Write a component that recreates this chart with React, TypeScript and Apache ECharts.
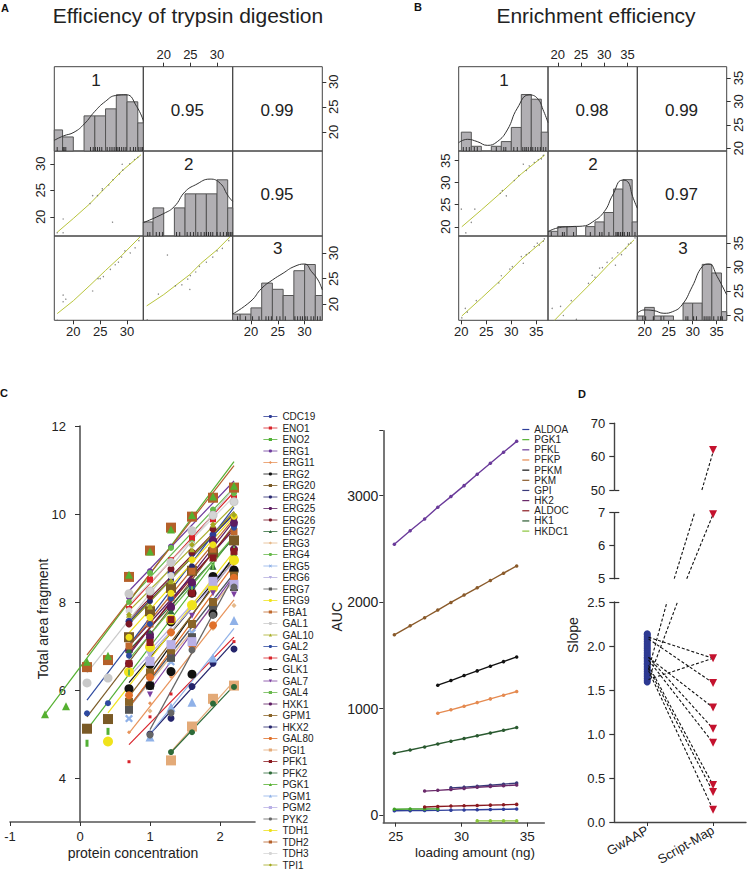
import React, { useEffect, useRef } from "react";
import * as echarts from "echarts";

const FONT = "'Liberation Sans', Arial, sans-serif";
const INK = "#222";

// ---------- Panels A and B: pair plots ----------
const rowEdges = [66.7, 151, 236, 320.3];
const colEdgesA = [54.3, 143.3, 232.7, 322.3];
const colEdgesB = [458.7, 548, 637.3, 726.7];

const xRangesA = [[16.46, 33.03], [16.17, 32.94], [16.6, 33.3]];
const yRangesA = [[16.2, 33], [16.4, 32.4], [16.9, 33.3]];
const xRangesB = [[19.48, 37.34], [17.9, 37.1], [18.46, 37.1]];
const yRangesB = [[19.43, 37.4], [17.9, 37.2], [18.9, 36.5]];
const ticksA = [20, 25, 30];
const ticksB = [20, 25, 30, 35];

const histA1 = [[16, 18, 3], [18, 20, 2], [22, 24, 5], [24, 26, 5], [26, 28, 6], [28, 30, 8], [30, 32, 7], [32, 34, 4]];
const histA2 = [[16, 18, 2], [18, 20, 4], [22, 24, 4], [24, 26, 6], [26, 28, 6], [28, 30, 6], [30, 32, 8], [32, 34, 4]];
const histA3 = [[16, 18, 1], [18, 20, 1], [20, 22, 2], [22, 24, 6], [24, 26, 5], [26, 28, 4], [28, 30, 8], [30, 32, 9], [32, 34, 4]];
const histB1 = [[20, 22, 4], [22, 24, 1], [26, 28, 1], [28, 30, 2], [30, 32, 5], [32, 34, 12], [34, 36, 11], [36, 38, 4]];
const histB2 = [[18, 20, 1], [20, 22, 2], [22, 24, 2], [26, 28, 2], [28, 30, 3], [30, 32, 5], [32, 34, 10], [34, 36, 12], [36, 38, 3]];
const histB3 = [[18, 20, 1], [20, 22, 3], [22, 24, 1], [24, 26, 1], [28, 30, 4], [30, 32, 4], [32, 34, 13], [34, 36, 11], [36, 38, 2]];
const histMaxA = [12, 12.1, 13.6];
const histMaxB = [17.9, 18.1, 19.6];

const densA1 = [[16.46, 1.52], [18.14, 2.14], [20.13, 2.67], [22.05, 3.86], [23.98, 5.62], [25.96, 7.05], [27.89, 7.9], [29.88, 8], [31.8, 6.33], [33.03, 4.33]];
const densA2 = [[16.17, 1.9], [20, 3.2], [22, 4.2], [24, 6.3], [26, 7.3], [28.7, 8.1], [30.6, 7.5], [32, 5.8], [32.94, 4.9]];
const densA3 = [[16.6, 1.02], [20, 3.1], [22, 5.16], [24, 6.5], [26, 7.6], [28, 8.65], [30, 9.08], [31.3, 7.85], [32.5, 6.5], [33.3, 4.9]];
const densB1 = [[19.48, 1.77], [21.2, 2.48], [23.2, 1.99], [25.2, 1.2], [27.2, 1.99], [29.2, 4.47], [31.2, 9.08], [33.55, 11.9], [35.2, 11.2], [36.5, 8.37], [37.34, 6.03]];
const densB2 = [[17.9, 0.92], [19.9, 1.7], [22.8, 2], [25.3, 2.1], [27.5, 3], [30, 5.2], [31.8, 8.7], [33.9, 11.9], [35, 11.6], [36.1, 8.4], [37.1, 5.9]];
const densB3 = [[18.46, 1.63], [19.85, 2.4], [21.9, 2.25], [24, 1.63], [25.8, 2], [27.8, 3.6], [29.9, 7.8], [32, 12.5], [33.4, 13.1], [35.1, 10.2], [37.1, 5.9]];

const rugA1 = [17, 18.1, 18.3, 18.6, 23.2, 23.7, 24.1, 24.5, 24.9, 25.3, 26.3, 26.8, 27.2, 27.6, 28, 28.3, 28.6, 29, 29.4, 29.8, 30.6, 31.2, 31.6, 32.2, 32.6, 32.9];
const rugA2 = [17, 17.4, 18.6, 19.2, 19.8, 22.4, 23, 24.4, 25, 25.6, 26.4, 27, 27.6, 28, 28.4, 28.8, 29.2, 30, 30.6, 31.2, 31.8, 32.2, 32.5, 32.8];
const rugA3 = [17.5, 19, 20.3, 21.5, 22.8, 23.3, 23.8, 24.8, 25.4, 26.4, 28.2, 28.7, 29.2, 29.6, 30.1, 30.5, 31.2, 31.7, 32.4, 32.9];
const rugB1 = [20.4, 21, 21.6, 22.6, 23.2, 27, 28.5, 28.9, 30.5, 31.2, 32.3, 32.7, 33, 33.4, 33.9, 34.3, 34.8, 35.3, 35.8, 36.4, 36.9];
const rugB2 = [18.6, 21, 21.4, 23.4, 27, 29, 29.5, 31, 32.5, 32.8, 33.1, 33.5, 33.9, 34.3, 35, 35.4, 36.6];
const rugB3 = [19.6, 20.2, 21.8, 23.4, 28.6, 29, 30.2, 30.8, 32.4, 32.8, 33.2, 33.6, 34.4, 35.3, 35.8, 36.2];

const corrA = ["0.95", "0.99", "0.95"];
const corrB = ["0.98", "0.99", "0.97"];

const fitColor = "#b8c43c";
const fitA10 = [[17, 17.1], [20, 19.7], [23, 22.4], [26, 25.5], [29, 28.6], [32.6, 31.7]];
const fitA20 = [[17, 18.2], [20, 20.7], [23.1, 23.7], [26, 26.6], [29, 29.5], [32.4, 33.1]];
const fitA21 = [[16.8, 19.7], [20, 21.9], [24.9, 25.8], [27, 28], [30, 30.6], [32.4, 33.1]];
const fitB10 = [[20.1, 20], [24, 23.8], [28, 27.8], [32, 32], [36.7, 36.3]];
const fitB20 = [[20.1, 19.8], [24, 23.5], [28, 27.4], [32, 31.6], [36.6, 35.7]];
const fitB21 = [[19.3, 18.9], [23, 22.6], [27, 26.5], [31, 30.6], [36.4, 35.7]];

const dotsA10 = [[17, 17], [18.1, 19.6], [18.1, 17], [27.3, 19], [23.1, 22.5], [23.6, 24], [24.5, 24], [25.4, 25], [25.4, 25.3], [26.6, 26], [27.4, 27], [28.6, 28.1], [29.2, 28.8], [29.1, 29.9], [30.5, 30], [31.4, 30.8], [32, 31.2]];
const dotsA20 = [[17, 16.9], [18.1, 20.5], [18.1, 21.8], [18.6, 21], [23.6, 22.6], [24.6, 25], [25, 25], [25.6, 25.4], [26.9, 26.8], [27.8, 27.7], [28.4, 28.2], [29, 29.2], [29.6, 30.4], [30.6, 30], [31.5, 31], [32.2, 32.4]];
const dotsA21 = [[16.9, 17], [19, 22], [20.7, 29.6], [22.2, 23.6], [23.4, 23.8], [24.5, 24.9], [24.9, 22.9], [25, 25.6], [26, 26.3], [26.7, 27.4], [28, 28.2], [29.2, 29.2], [30, 30.4], [31, 30.9], [32.2, 32.4]];
const dotsB10 = [[20, 24], [20.9, 18.6], [22, 21], [22.7, 24], [27.8, 27.6], [28.2, 28.2], [29, 27], [30.6, 30.5], [31.5, 31.6], [32.4, 34.2], [33, 32.8], [33.6, 33.8], [34.6, 34.6], [35.4, 35.2], [36, 35.4], [36.4, 36.2]];
const dotsB20 = [[20.1, 19.4], [20.8, 21.4], [21.2, 20.6], [23, 23], [27.5, 26.7], [28, 28.2], [29.7, 29.6], [30.2, 30.1], [32, 32.2], [32.4, 30.8], [33, 32.6], [33.6, 33], [34.6, 34.3], [35.2, 35], [35.6, 34.6], [36.4, 35.4], [36.6, 35.9]];
const dotsB21 = [[18.8, 21.4], [20.6, 21.8], [21.2, 19.9], [22.9, 23], [24, 19.1], [26.6, 26.6], [27.4, 28.3], [28, 27.9], [29, 29.8], [29.6, 29.9], [30.6, 31], [31.7, 31.9], [32.4, 30.4], [32.9, 33], [33.7, 32.6], [34.6, 33.9], [35.2, 34.8], [35.7, 35], [36.6, 36.1]];

// ---------- Panel C, left: protein concentration ----------
const concentrations = [-0.5, -0.2, 0.1, 0.4, 0.7, 1.0, 1.3, 1.6, 1.9, 2.2];
const proteinNames = ["CDC19", "ENO1", "ENO2", "ERG1", "ERG11", "ERG2", "ERG20", "ERG24", "ERG25", "ERG26", "ERG27", "ERG3", "ERG4", "ERG5", "ERG6", "ERG7", "ERG9", "FBA1", "GAL1", "GAL10", "GAL2", "GAL3", "GLK1", "GAL7", "GAL4", "HXK1", "GPM1", "HKX2", "GAL80", "PGI1", "PFK1", "PFK2", "PGK1", "PGM1", "PGM2", "PYK2", "TDH1", "TDH2", "TDH3", "TPI1"];
const proteinColors = ["#2e3c96", "#d8232a", "#52b035", "#6d3a9c", "#e8935a", "#111111", "#7a5a26", "#26266e", "#5c1a60", "#7a1826", "#2f6a3a", "#e5b98a", "#66b84a", "#8fb1e8", "#b5aee0", "#555555", "#f0e31c", "#c0692d", "#c9c9c9", "#a9ae2a", "#2e4aa0", "#d8232a", "#111111", "#7b3fa0", "#69b84d", "#5c1a60", "#8a6428", "#24246b", "#e0702a", "#e3aa78", "#8a1a20", "#2d6a38", "#55b030", "#8fb1e8", "#b9b0e6", "#666666", "#eee01a", "#b5602a", "#d5d5d5", "#a3a820"];
const CROSS = "path://M0 2L2 0L5 3L8 0L10 2L7 5L10 8L8 10L5 7L2 10L0 8L3 5Z";
const DOWN = "path://M0 0H10L5 10Z";
const proteinSymbols = ["circle", "rect", "rect", "circle", "diamond", "circle", "rect", "circle", "circle", "circle", "triangle", "diamond", "circle", CROSS, DOWN, "rect", "circle", "rect", "circle", "triangle", "circle", "rect", "circle", DOWN, "rect", "circle", "rect", "circle", "circle", "rect", "rect", "circle", "triangle", "triangle", "rect", "circle", "circle", "rect", "circle", "diamond"];
const proteinSizes: any[] = [7, 6, [3, 7], 6, 4, 9, 10, 6, 8, 7, 7, 5, 6, 8, 8, 8, 10, 7, 9, 6, 6, 3, 9, 6, [2, 6], 8, 8, 7, 8, 10, 7, 6, 8, 9, 9, 7, 7, 10, 7, 6];
// start x, y at start, y at x = 2.2
const proteinFits = [[0.7, 7.5, 10.05], [0.7, 7.9, 10.5], [0.1, 5.1, 9.5], [0.7, 8.25, 10.75], [0.7, 5.02, 8.05], [0.7, 6.17, 9], [0.1, 5.39, 9.75], [0.7, 7.55, 10], [0.7, 7, 9.65], [0.7, 7.6, 10.05], [0.7, 6.9, 9.45], [0.7, 5.6, 8.5], [0.7, 8.05, 10.6], [0.7, 5.6, 8.65], [1, 6.9, 9], [0.7, 5.62, 8.65], [0.4, 5.48, 9.15], [0.7, 7, 9.9], [0.1, 6.39, 10.6], [0.7, 7.8, 10.2], [0.1, 5.77, 10.15], [0.7, 4.76, 7.2], [1, 6.35, 9.05], [1, 6, 8.6], [0.7, 6.7, 9.5], [0.7, 6.8, 9.85], [0.7, 5.85, 8.95], [1, 5, 7.1], [0.7, 5.6, 8.85], [1.3, 4.6, 6.2], [0.7, 6.85, 9.7], [1.3, 4.58, 6.1], [-0.5, 5.45, 11.19], [1, 5, 7.4], [0.7, 6.3, 8.9], [1, 5.1, 8.6], [0.7, 7.3, 9.95], [0.1, 6.8, 11.1], [0.7, 7.95, 10.4], [0.7, 7.5, 10.05]];
const N = null;
const proteinPoints = [
  [N, N, N, N, 7.56, 8.2, 8.66, 9.1, 9.53, 9.75],
  [N, N, N, N, 7.84, 8.51, 8.95, 9.45, 9.88, 10.36],
  [N, N, 4.79, 5.06, 6.92, 7.56, 7.8, 8.37, 8.81, 9.3],
  [N, N, N, N, 8.11, 8.7, 9.26, 9.62, 10.02, 10.52],
  [N, N, N, N, 5.04, 5.7, 6.3, 6.9, 7.47, 7.92],
  [N, N, N, N, 6.03, 6.58, 7.55, 8.2, 8.58, 8.73],
  [N, N, 5.12, 5.34, 7.2, 7.79, 8.32, 8.71, 9.13, 9.4],
  [N, N, N, N, 7.53, 8.02, 8.5, 8.81, 9.4, 9.78],
  [N, N, N, N, 6.9, 7.26, 7.87, 8.4, 9.4, 9.2],
  [N, N, N, N, 7.5, 8.13, 8.75, 9.13, 9.66, 9.92],
  [N, N, N, N, 6.92, 7.3, 7.8, 8.37, 8.81, 9.1],
  [N, N, N, N, N, 5.52, 6.42, 6.91, 7.4, 7.92],
  [N, N, N, N, 8.0, 8.66, 9.23, 9.34, 10.1, 10.47],
  [N, N, N, N, 5.35, 6.2, 6.64, 7.3, 8.03, 8.5],
  [N, N, N, N, N, 6.8, 7.03, 7.9, 8.47, 8.4],
  [N, N, N, N, 5.55, 6.1, 6.73, 7.2, 7.9, 8.34],
  [N, N, N, 4.83, 6.41, 6.98, 7.6, 7.93, 8.32, 8.95],
  [N, N, N, N, 7.0, 7.5, 8.1, 8.7, 9.2, 9.6],
  [N, N, 6.16, 6.27, 8.19, 8.25, 8.9, 9.62, 9.97, 10.28],
  [N, N, N, N, 7.71, 7.9, 8.47, 9.2, 9.76, 10.0],
  [N, N, 5.47, 5.7, 6.78, 7.5, 8.08, 8.36, 9.29, 9.69],
  [N, N, N, N, 4.37, 5.39, 5.91, 6.36, 6.7, 7.1],
  [N, N, N, N, N, 6.1, 6.42, 6.36, 7.73, 8.7],
  [N, N, N, N, N, 5.9, 6.84, 7.69, 8.2, 8.17],
  [N, N, N, N, 6.4, 7.1, 7.6, 8.3, 8.8, 9.2],
  [N, N, N, N, 6.6, 7.2, 7.9, 8.45, 9.4, 9.8],
  [N, N, N, N, 5.73, 6.4, 6.9, 7.5, 8.0, 8.6],
  [N, N, N, N, N, 5.0, 5.36, 6.08, 6.61, 6.93],
  [N, N, N, N, 5.88, 6.29, 7.31, 7.03, 7.47, 8.55],
  [N, N, N, N, N, N, 4.4, 5.17, 5.8, 6.1],
  [N, N, N, N, 6.6, 7.08, 7.6, 8.2, 9.0, 9.15],
  [N, N, N, N, N, N, 4.59, 5.04, 5.69, 6.07],
  [5.45, 5.63, 6.64, 6.78, 8.62, 9.15, 9.65, 9.98, 10.4, 10.64],
  [N, N, N, N, N, 4.93, 5.61, 5.72, 6.73, 7.58],
  [N, N, N, N, N, 6.65, 7.03, 7.1, 8.47, 8.4],
  [N, N, N, N, N, 4.98, 5.48, 6.91, 7.7, 8.34],
  [N, N, N, N, 7.2, 7.65, 8.2, 8.96, 9.3, 9.95],
  [N, N, 6.52, 6.68, 8.57, 9.17, 9.69, 9.94, 10.37, 10.6],
  [N, N, N, N, 7.8, 8.25, 8.6, 9.3, 9.97, 10.28],
  [N, N, N, N, 7.71, 7.9, 8.47, 9.3, 9.76, 9.98],
];

// ---------- Panel C, right: AUC against loading amount ----------
const loading = [24.9, 26.1, 27.2, 28.2, 29.2, 30.2, 31.2, 32.2, 33.2, 34.2];
const aucNames = ["ALDOA", "PGK1", "PFKL", "PFKP", "PFKM", "PKM", "GPI", "HK2", "ALDOC", "HK1", "HKDC1"];
const aucColors = ["#2e3e9a", "#3fa025", "#6a3a9a", "#e58a50", "#111111", "#8a5a2a", "#3a3a7a", "#6a2a6a", "#8a1a20", "#2a5a30", "#8ac43a"];
const aucALDOA = [40, 41, 42, 44, 46, 48, 50, 52, 54, 56];
const aucPGK1 = [55, 56, 57, 58, N, N, N, N, N, N];
const aucPFKL = [2544, 2671, 2781, 2891, 2991, 3094, 3201, 3304, 3407, 3510];
const aucPFKP = [N, N, N, 957, 988, 1022, 1056, 1091, 1126, 1160];
const aucPFKM = [N, N, N, 1220, 1263, 1310, 1354, 1398, 1441, 1485];
const aucPKM = [1693, 1777, 1853, 1925, 1997, 2066, 2134, 2203, 2272, 2340];
const aucGPI = [N, N, N, N, 255, 262, 270, 280, 290, 300];
const aucHK2 = [N, N, 225, 232, 240, 250, 260, 268, 275, 282];
const aucALDOC = [N, N, 75, 80, 84, 87, 90, 93, 96, 100];
const aucHK1 = [581, 611, 640, 667, 694, 719, 745, 771, 796, 822];
const aucHKDC1 = [N, N, N, N, N, N, -55, -55, -55, -55];
const aucValues = [aucALDOA, aucPGK1, aucPFKL, aucPFKP, aucPFKM, aucPKM, aucGPI, aucHK2, aucALDOC, aucHK1, aucHKDC1];

// ---------- Panel D: slopes on a broken axis ----------
const methods = ["GwAAP", "Script-Map"];
const gwaapSlopes = [1.59, 1.61, 1.63, 1.65, 1.67, 1.69, 1.71, 1.73, 1.75, 1.77, 1.79, 1.8, 1.82, 1.84, 1.86, 1.87, 1.89, 1.91, 1.93, 1.95, 1.97, 1.99, 2.01, 2.03, 2.05, 2.07, 2.09, 2.11, 2.13, 2.14];
const scriptSlopes = [62, 6.95, 1.86, 1.58, 1.3, 1.06, 0.9, 0.42, 0.34, 0.14];
const slopePairsLow = [
  [[1.02, 1.62], [2, 1.86]], [[1.02, 2.1], [2, 1.86]], [[1.02, 2.08], [2, 1.58]], [[1.02, 1.87], [2, 1.3]],
  [[1.02, 1.87], [2, 1.06]], [[1.02, 1.84], [2, 0.9]], [[1.02, 1.78], [2, 0.42]], [[1.02, 1.75], [2, 0.34]],
  [[1.02, 1.72], [2, 0.14]], [[1.02, 1.73], [1.3, 2.5]], [[1.04, 1.66], [1.46, 2.5]],
];
const slopePairsMid = [[[1.41, 5], [1.72, 7]], [[1.6, 5], [2, 6.95]]];
const slopePairsTop = [[[1.83, 50], [2, 61.4]]];

// ---------- Helpers ----------
const plain = (v: number) => String(v);

function baseAxis(gridIndex: number, min: number, max: number, position: string) {
  return {
    type: "value", gridIndex, min, max, position, splitLine: { show: false },
    axisLine: { show: false, onZero: false },
  };
}
function pairAxis(gridIndex: number, range: number[], position: string, ticks: number[] | null, rotate: number, margin: number) {
  const axis: any = baseAxis(gridIndex, range[0], range[1], position);
  if (!ticks) { axis.show = false; return axis; }
  axis.axisTick = { show: true, length: 4, customValues: ticks, lineStyle: { color: "#333" } };
  axis.axisLabel = { customValues: ticks, rotate, margin, fontSize: 13, color: INK, fontFamily: FONT };
  return axis;
}

type Panel = { cols: number[]; ticks: number[]; xR: number[][]; yR: number[][]; hist: number[][][]; histMax: number[]; dens: number[][][]; rug: number[][]; fits: number[][][]; dots: number[][][]; };

function buildPair(p: Panel, grids: any[], xs: any[], ys: any[], series: any[]) {
  for (let r = 0; r < 3; r++) {
    for (let c = 0; c < 3; c++) {
      const g = grids.length;
      grids.push({
        show: true, borderColor: "#444", borderWidth: 1, backgroundColor: "transparent", outerBoundsMode: "none",
        left: p.cols[c], top: rowEdges[r], width: p.cols[c + 1] - p.cols[c], height: rowEdges[r + 1] - rowEdges[r],
      });
      let xTicks: number[] | null = null;
      let xPos = "bottom";
      if (r === 0 && c === 1) { xTicks = p.ticks; xPos = "top"; }
      if (r === 2 && c !== 1) xTicks = p.ticks;
      let yTicks: number[] | null = null;
      let yPos = "left";
      if (r === 1 && c === 0) yTicks = p.ticks;
      if (r !== 1 && c === 2) { yTicks = p.ticks; yPos = "right"; }
      const xi = xs.length;
      xs.push(pairAxis(g, p.xR[c], xPos, xTicks, 0, xPos === "top" ? 6 : 5));
      const yi = ys.length;
      ys.push(pairAxis(g, p.yR[r], yPos, yTicks, 90, yPos === "left" ? 7 : 5));
      if (r === c) {
        const hi = ys.length;
        const [xLo, xHi] = p.xR[c];
        ys.push({ ...baseAxis(g, 0, p.histMax[r], "left"), show: false });
        series.push({
          type: "custom", xAxisIndex: xi, yAxisIndex: hi, data: p.hist[r], encode: { x: [0, 1], y: 2 }, silent: true, z: 2,
          renderItem: (_: any, api: any) => {
            const a = api.coord([Math.max(api.value(0), xLo), 0]);
            const b = api.coord([Math.min(api.value(1), xHi), api.value(2)]);
            return { type: "rect", shape: { x: a[0], y: b[1], width: b[0] - a[0], height: a[1] - b[1] }, style: { fill: "#b1afb3", stroke: "#555", lineWidth: 1 } };
          },
        });
        series.push({ type: "line", xAxisIndex: xi, yAxisIndex: hi, data: p.dens[r], smooth: 0.5, showSymbol: false, symbol: "none", lineStyle: { color: "#333", width: 1 }, z: 3 });
        series.push({ type: "scatter", xAxisIndex: xi, yAxisIndex: hi, data: p.rug[r].map((v) => [v, 0]), symbol: "rect", symbolSize: [1, 4], symbolOffset: [0, -2], itemStyle: { color: "#111" }, z: 4, clip: false });
      } else if (r > c) {
        const k = r === 1 ? 0 : c + 1;
        series.push({ type: "line", xAxisIndex: xi, yAxisIndex: yi, data: p.fits[k], showSymbol: false, symbol: "none", lineStyle: { color: fitColor, width: 1 }, z: 3 });
        series.push({ type: "scatter", xAxisIndex: xi, yAxisIndex: yi, data: p.dots[k], symbol: "circle", symbolSize: 1.4, itemStyle: { color: "#666" }, z: 4 });
      }
    }
  }
}

function textItem(text: string, x: number, y: number, fontSize: number, extra: any = {}) {
  const { rotation, ...style } = extra;
  return {
    type: "text", x, y, rotation: rotation || 0, silent: true,
    style: { text, fontSize, fontFamily: FONT, fill: INK, align: "center", verticalAlign: "middle", ...style },
  };
}

function buildOption() {
  const grids: any[] = [];
  const xs: any[] = [];
  const ys: any[] = [];
  const series: any[] = [];

  buildPair({ cols: colEdgesA, ticks: ticksA, xR: xRangesA, yR: yRangesA, hist: [histA1, histA2, histA3], histMax: histMaxA, dens: [densA1, densA2, densA3], rug: [rugA1, rugA2, rugA3], fits: [fitA10, fitA20, fitA21], dots: [dotsA10, dotsA20, dotsA21] }, grids, xs, ys, series);
  buildPair({ cols: colEdgesB, ticks: ticksB, xR: xRangesB, yR: yRangesB, hist: [histB1, histB2, histB3], histMax: histMaxB, dens: [densB1, densB2, densB3], rug: [rugB1, rugB2, rugB3], fits: [fitB10, fitB20, fitB21], dots: [dotsB10, dotsB20, dotsB21] }, grids, xs, ys, series);

  const axisStroke = { color: "#555", width: 1.6 };
  const tickStyle = { color: "#333" };
  const label = (fontSize: number, margin: number) => ({ fontSize, margin, color: INK, fontFamily: FONT, formatter: plain });

  // Panel C left: the y axis crosses at x = 0, so it is offset into the plot together with its labels
  const gC = grids.length;
  grids.push({ left: 10, top: 426, width: 245, height: 396, outerBoundsMode: "none" });
  const xC = xs.length;
  xs.push({ type: "value", gridIndex: gC, min: -1, max: 2.5, splitLine: { show: false }, axisLine: { lineStyle: axisStroke, onZero: false }, axisTick: { length: 4, customValues: [-1, 0, 1, 2], lineStyle: tickStyle }, axisLabel: { ...label(13, 8), customValues: [-1, 0, 1, 2] } });
  const yC = ys.length;
  ys.push({ type: "value", gridIndex: gC, min: 3, max: 12, position: "left", offset: -70, splitLine: { show: false }, axisLine: { lineStyle: axisStroke, onZero: false }, axisTick: { length: 5, customValues: [4, 6, 8, 10, 12], lineStyle: tickStyle }, axisLabel: { ...label(13, 14), customValues: [4, 6, 8, 10, 12] } });
  proteinNames.forEach((name, i) => {
    const [x0, y0, y1] = proteinFits[i];
    series.push({ type: "line", name, xAxisIndex: xC, yAxisIndex: yC, data: [[x0, y0], [2.2, y1]], showSymbol: false, symbol: proteinSymbols[i], color: proteinColors[i], lineStyle: { color: proteinColors[i], width: 1.2 }, z: 2 });
  });
  proteinNames.forEach((name, i) => {
    const data = proteinPoints[i].map((v, k) => [concentrations[k], v]).filter((d) => d[1] !== null);
    series.push({ type: "scatter", name, xAxisIndex: xC, yAxisIndex: yC, data, symbol: proteinSymbols[i], symbolSize: proteinSizes[i], itemStyle: { color: proteinColors[i], opacity: 1 }, z: name === "PGK1" ? 4 : 3 });
  });

  // Panel C right
  const gA = grids.length;
  grids.push({ left: 383.3, top: 430.7, width: 161, height: 392, outerBoundsMode: "none" });
  const xA = xs.length;
  xs.push({ type: "value", gridIndex: gA, min: 24.06, max: 36.3, splitLine: { show: false }, axisLine: { lineStyle: axisStroke, onZero: false }, axisTick: { length: 4, customValues: [25, 30, 35], lineStyle: tickStyle }, axisLabel: { ...label(13.5, 7), customValues: [25, 30, 35] } });
  const yA = ys.length;
  ys.push({ type: "value", gridIndex: gA, min: -72, max: 3610, splitLine: { show: false }, axisLine: { lineStyle: axisStroke, onZero: false }, axisTick: { length: 4, customValues: [0, 1000, 2000, 3000, 3610], lineStyle: tickStyle }, axisLabel: { ...label(14, 5), customValues: [0, 1000, 2000, 3000] } });
  aucNames.forEach((name, i) => {
    const data = aucValues[i].map((v, k) => [loading[k], v]).filter((d) => d[1] !== null);
    series.push({ type: "line", name, xAxisIndex: xA, yAxisIndex: yA, data, symbol: "circle", symbolSize: 3.5, color: aucColors[i], lineStyle: { color: aucColors[i], width: 1.4 }, itemStyle: { color: aucColors[i] }, z: 2 });
  });

  // Panel D: three stacked segments of one broken axis
  const segments = [
    { top: 423.3, bottom: 490, min: 50, max: 70, ticks: [50, 60, 70], inner: [50], labels: [50, 60, 70], pairs: slopePairsTop },
    { top: 512.7, bottom: 578.7, min: 5, max: 7, ticks: [5, 6, 7], inner: [5, 7], labels: [5, 6, 7], pairs: slopePairsMid },
    { top: 602, bottom: 822, min: 0, max: 2.5, ticks: [0, 0.5, 1, 1.5, 2, 2.5], inner: [2.5], labels: [0, 0.5, 1, 1.5, 2, 2.5], pairs: slopePairsLow },
  ];
  segments.forEach((s, si) => {
    const g = grids.length;
    grids.push({ left: 614.3, top: s.top, width: 131.7, height: s.bottom - s.top, outerBoundsMode: "none" });
    const xi = xs.length;
    const isBottom = si === 2;
    xs.push({
      type: "value", gridIndex: g, min: 0.5, max: 2.5, show: isBottom, splitLine: { show: false },
      axisLine: { lineStyle: { color: "#444", width: 1.4 }, onZero: false },
      axisTick: { length: 4, customValues: [1, 2], lineStyle: tickStyle },
      axisLabel: { ...label(13, 7), rotate: 30, customValues: [1, 2], formatter: (v: number) => methods[v - 1] },
    });
    const yi = ys.length;
    ys.push({
      type: "value", gridIndex: g, min: s.min, max: s.max, splitLine: { show: false },
      axisLine: { lineStyle: { color: "#444", width: 1.4 }, onZero: false },
      axisTick: { length: 5, customValues: s.ticks, lineStyle: { color: "#333", width: 1.2 } },
      axisLabel: { ...label(13, 9), customValues: s.labels, formatter: (v: number) => (si === 2 ? v.toFixed(1) : String(v)) },
    });
    ys.push({
      type: "value", gridIndex: g, min: s.min, max: s.max, splitLine: { show: false }, position: "left",
      axisLine: { show: false, onZero: false }, axisLabel: { show: false },
      axisTick: { inside: true, length: 5, customValues: s.inner, lineStyle: { color: "#333", width: 1.2 } },
    });
    s.pairs.forEach((data) => {
      series.push({ type: "line", xAxisIndex: xi, yAxisIndex: yi, data, showSymbol: false, symbol: "none", lineStyle: { color: "#111", width: 1.1, type: [3, 2] }, z: 4 });
    });
    series.push({
      type: "scatter", xAxisIndex: xi, yAxisIndex: yi, symbol: "circle", symbolSize: 7, itemStyle: { color: "#2e3a92", opacity: 1 }, z: 2,
      data: gwaapSlopes.filter((v) => v >= s.min && v <= s.max).map((v) => [1, v]),
    });
    series.push({
      type: "scatter", xAxisIndex: xi, yAxisIndex: yi, symbol: "triangle", symbolRotate: 180, symbolSize: 8, itemStyle: { color: "#c4122e", opacity: 1 }, z: 5,
      data: scriptSlopes.filter((v) => v >= s.min && v <= s.max).map((v) => [2, v]),
    });
  });

  const legendText = { fontSize: 10, color: INK, fontFamily: FONT, lineHeight: 10 };
  const graphicElements = [
    textItem("A", 5, 8, 11, { fontWeight: "bold", fill: "#111" }),
    textItem("B", 418, 7, 11, { fontWeight: "bold", fill: "#111" }),
    textItem("C", 4, 393, 11, { fontWeight: "bold", fill: "#111" }),
    textItem("D", 582, 394, 11, { fontWeight: "bold", fill: "#111" }),
    textItem("Efficiency of trypsin digestion", 188, 15.5, 21),
    textItem("Enrichment efficiency", 596, 15.5, 21),
    textItem("1", 96, 80, 17), textItem("2", 188.7, 164, 17), textItem("3", 277.7, 248, 17),
    textItem("1", 504, 80, 17), textItem("2", 593, 164, 17), textItem("3", 683, 248, 17),
    textItem(corrA[0], 187.3, 110.5, 17), textItem(corrA[1], 277, 110.5, 17), textItem(corrA[2], 277, 194.5, 17),
    textItem(corrB[0], 592, 110.5, 17), textItem(corrB[1], 681.5, 110.5, 17), textItem(corrB[2], 681.5, 194.5, 17),
    textItem("Total area fragment", 43, 619, 14, { rotation: Math.PI / 2 }),
    textItem("protein concentration", 133, 852.5, 14),
    textItem("AUC", 337.3, 616.7, 14, { rotation: Math.PI / 2 }),
    textItem("loading amount (ng)", 475, 852, 13.5),
    textItem("Slope", 573, 635, 14, { rotation: Math.PI / 2 }),
  ];

  return {
    animation: false,
    backgroundColor: "#fff",
    textStyle: { fontFamily: FONT },
    grid: grids,
    xAxis: xs,
    yAxis: ys,
    series,
    graphic: { elements: graphicElements },
    legend: [
      { data: proteinNames, orient: "vertical", left: 263, top: 411.5, padding: 0, itemWidth: 14, itemHeight: 4, itemGap: 1.5, selectedMode: false, lineStyle: { width: 0.8 }, textStyle: legendText, align: "left" },
      { data: aucNames, orient: "vertical", left: 522.3, top: 424.5, padding: 0, itemWidth: 7, itemHeight: 1.2, itemGap: 0.16, icon: "rect", selectedMode: false, textStyle: legendText, align: "left" },
    ],
  };
}

export default function App() {
  const ref = useRef<HTMLDivElement>(null);
  useEffect(() => {
    const chart = echarts.init(ref.current!, undefined, { renderer: "svg" });
    chart.setOption(buildOption() as any);
    return () => chart.dispose();
  }, []);
  return <div ref={ref} style={{ position: "absolute", left: 0, top: 0, width: 748, height: 878 }} />;
}
